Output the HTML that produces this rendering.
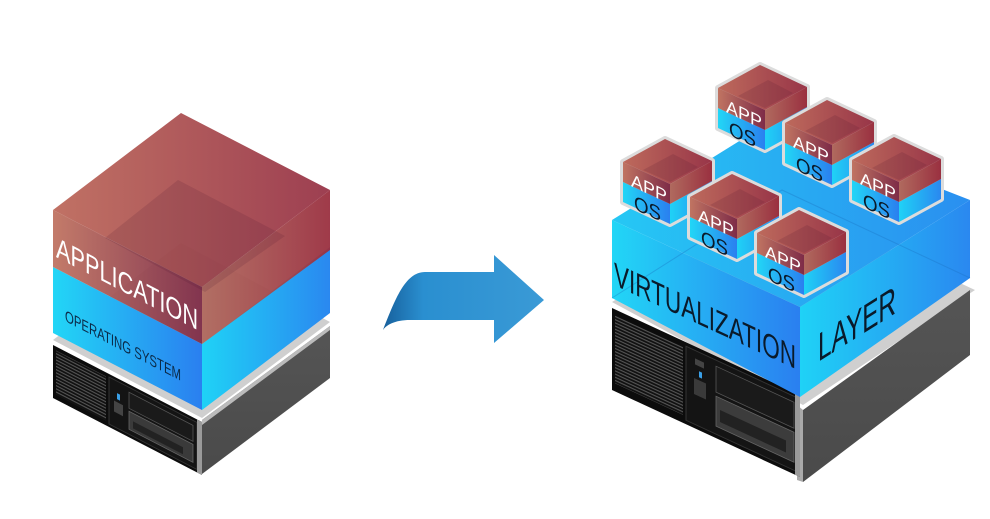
<!DOCTYPE html>
<html><head><meta charset="utf-8"><style>
html,body{margin:0;padding:0;background:#fff;width:990px;height:519px;overflow:hidden}
svg{display:block}
text{font-family:"Liberation Sans","DejaVu Sans",sans-serif}
</style></head><body>
<svg width="990" height="519" viewBox="0 0 990 519" xmlns="http://www.w3.org/2000/svg">
<defs>
<linearGradient id="redL" x1="0" y1="0" x2="1" y2="0"><stop offset="0" stop-color="#c07462"/><stop offset="1" stop-color="#7e2c48"/></linearGradient>
<linearGradient id="redR" x1="0" y1="0" x2="1" y2="0"><stop offset="0" stop-color="#b06a5e"/><stop offset="1" stop-color="#9a3040"/></linearGradient>
<linearGradient id="redT" x1="0" y1="0" x2="1" y2="0"><stop offset="0" stop-color="#bd6a5c"/><stop offset="1" stop-color="#983548"/></linearGradient>
<linearGradient id="bluL" x1="0" y1="0" x2="1" y2="0"><stop offset="0" stop-color="#22d6f6"/><stop offset="1" stop-color="#2a7ff0"/></linearGradient>
<linearGradient id="bluR" x1="0" y1="0" x2="1" y2="0"><stop offset="0" stop-color="#1fd2f6"/><stop offset="1" stop-color="#2a88f0"/></linearGradient>
<linearGradient id="bluT" x1="0" y1="0" x2="1" y2="0"><stop offset="0" stop-color="#26c8f4"/><stop offset="1" stop-color="#2a8ff0"/></linearGradient>
<linearGradient id="arr" x1="0" y1="0" x2="1" y2="0"><stop offset="0" stop-color="#17609c"/><stop offset="0.25" stop-color="#2a8fd0"/><stop offset="1" stop-color="#3a9ad6"/></linearGradient>
<linearGradient id="gray" x1="0" y1="0" x2="0" y2="1"><stop offset="0" stop-color="#555"/><stop offset="1" stop-color="#4a4a4a"/></linearGradient>
<pattern id="grill" width="6" height="3.2" patternUnits="userSpaceOnUse"><rect width="6" height="3.2" fill="#111"/><rect width="6" height="1.2" fill="#555"/></pattern>
<g id="box">
<polygon points="0,0 42,-23 89,-1 89,39 47,62 0,40" fill="#dcdcdc" stroke="#dcdcdc" stroke-width="6" stroke-linejoin="round"/>
<polygon points="0,20 47,42 47,62 0,40" fill="url(#bluL)"/>
<polygon points="47,42 89,19 89,39 47,62" fill="url(#bluR)"/>
<polygon points="0,0 42,-23 89,-1 47,22" fill="url(#redT)"/>
<polygon points="0,0 47,22 47,42 0,20" fill="url(#redL)"/>
<polygon points="47,22 89,-1 89,19 47,42" fill="url(#redR)"/>
<polygon points="20,8 50,-8 75,5 47,20" fill="#5a1a30" opacity="0.18"/>
</g>
</defs>

<polygon points="53,340 181,243 330,322 202,418" fill="#cfcfcf"/>
<polygon points="202,420 330,326 330,378 202,474" fill="url(#gray)"/>
<polygon points="202,420 330,326 330,330 202,425" fill="#bbb"/>
<g transform="matrix(1,0.517,0,1,53,345)">
<rect x="0" y="0" width="149" height="53" fill="#0c0c0c"/>
<rect x="3" y="4" width="50" height="44" fill="url(#grill)"/>
<rect x="56" y="3" width="88" height="47" fill="#141414" stroke="#333" stroke-width="1"/>
<rect x="64" y="15" width="3" height="6" fill="#3aa0e8"/>
<rect x="61" y="24" width="9" height="11" fill="#444"/>
<rect x="76" y="8" width="64" height="16" fill="#1a1a1a" stroke="#555" stroke-width="0.8"/>
<rect x="76" y="27" width="64" height="18" fill="#3a3a3a" stroke="#666" stroke-width="0.8"/>
<rect x="80" y="35" width="50" height="7" fill="#222"/>
<rect x="144" y="0" width="5" height="53" fill="#9a9a9a"/>
</g>
<polygon points="53,267 202,344 202,410 53,333" fill="url(#bluL)"/>
<polygon points="202,344 330,247 330,313 202,410" fill="url(#bluR)"/>
<polygon points="53,210 181,113 330,190 202,287" fill="url(#redT)" opacity="0.95"/>
<polygon points="53,210 202,287 202,344 53,267" fill="url(#redL)" opacity="0.95"/>
<polygon points="202,287 330,190 330,250 202,344" fill="url(#redR)" opacity="0.95"/>
<polygon points="105,238 178,180 285,236 205,292" fill="#4a1530" opacity="0.15"/>
<text transform="translate(56,257) skewY(27.3)" font-size="29" fill="#fff" textLength="142" lengthAdjust="spacingAndGlyphs">APPLICATION</text>
<text transform="translate(65,321) skewY(27.3)" font-size="16" fill="#0b2a48" textLength="116" lengthAdjust="spacingAndGlyphs">OPERATING SYSTEM</text>

<path d="M383,330 C395,300 405,272 425,272 L494,272 L494,255 L544,300 L494,343 L494,320 L410,320 C395,320 386,325 383,330 Z" fill="url(#arr)"/>

<polygon points="612,302 782,200 975,290 803,405" fill="#cfcfcf"/>
<polygon points="803,410 970,290 970,355 803,482" fill="url(#gray)"/>
<polygon points="797,405 803,410 803,482 797,480" fill="#aaa"/>
<g transform="matrix(1,0.463,0,1,612,308)">
<rect x="0" y="0" width="188" height="82" fill="#0c0c0c"/>
<rect x="3" y="6" width="68" height="68" fill="url(#grill)"/>
<rect x="74" y="4" width="110" height="74" fill="#141414" stroke="#333" stroke-width="1"/>
<rect x="83" y="12" width="9" height="6" fill="#444"/>
<rect x="87" y="23" width="3" height="6" fill="#3aa0e8"/>
<rect x="82" y="32" width="12" height="16" fill="#3a3a3a"/>
<rect x="104" y="10" width="78" height="26" fill="#1a1a1a" stroke="#555" stroke-width="0.8"/>
<rect x="104" y="40" width="78" height="30" fill="#3c3c3c" stroke="#666" stroke-width="0.8"/>
<rect x="108" y="52" width="66" height="12" fill="#222"/>
<rect x="183" y="0" width="5" height="82" fill="#9a9a9a"/>
</g>
<polygon points="612,220 800,307 800,397 612,298" fill="url(#bluL)"/>
<polygon points="800,307 970,200 970,278 800,397" fill="url(#bluR)"/>
<polygon points="612,220 770,122 970,200 800,307" fill="url(#bluT)"/>
<polyline points="612,298 782,190 970,278" fill="none" stroke="#1a70c0" stroke-width="1" opacity="0.35"/>
<text transform="translate(614,285) skewY(24.8)" font-size="33" fill="#0a1a2a" textLength="182" lengthAdjust="spacingAndGlyphs">VIRTUALIZATION</text>
<text transform="translate(818,362) skewY(-32.2)" font-size="40" fill="#0a1a2a" textLength="78" lengthAdjust="spacingAndGlyphs">LAYER</text>

<use href="#box" x="718" y="88"/>
<use href="#box" x="785" y="123"/>
<use href="#box" x="852" y="160"/>
<use href="#box" x="623" y="162"/>
<use href="#box" x="690" y="197"/>
<use href="#box" x="757" y="233"/>
<g font-size="18" fill="#fff">
<text transform="translate(726,112) skewY(25)" textLength="36" lengthAdjust="spacingAndGlyphs">APP</text>
<text transform="translate(793,147) skewY(25)" textLength="36" lengthAdjust="spacingAndGlyphs">APP</text>
<text transform="translate(860,184) skewY(25)" textLength="36" lengthAdjust="spacingAndGlyphs">APP</text>
<text transform="translate(631,186) skewY(25)" textLength="36" lengthAdjust="spacingAndGlyphs">APP</text>
<text transform="translate(698,221) skewY(25)" textLength="36" lengthAdjust="spacingAndGlyphs">APP</text>
<text transform="translate(765,257) skewY(25)" textLength="36" lengthAdjust="spacingAndGlyphs">APP</text>
</g>
<g font-size="20" fill="#0a1a2a">
<text transform="translate(729,135) skewY(25)" textLength="27" lengthAdjust="spacingAndGlyphs">OS</text>
<text transform="translate(796,170) skewY(25)" textLength="27" lengthAdjust="spacingAndGlyphs">OS</text>
<text transform="translate(863,207) skewY(25)" textLength="27" lengthAdjust="spacingAndGlyphs">OS</text>
<text transform="translate(634,209) skewY(25)" textLength="27" lengthAdjust="spacingAndGlyphs">OS</text>
<text transform="translate(701,244) skewY(25)" textLength="27" lengthAdjust="spacingAndGlyphs">OS</text>
<text transform="translate(768,280) skewY(25)" textLength="27" lengthAdjust="spacingAndGlyphs">OS</text>
</g>
</svg>
</body></html>
